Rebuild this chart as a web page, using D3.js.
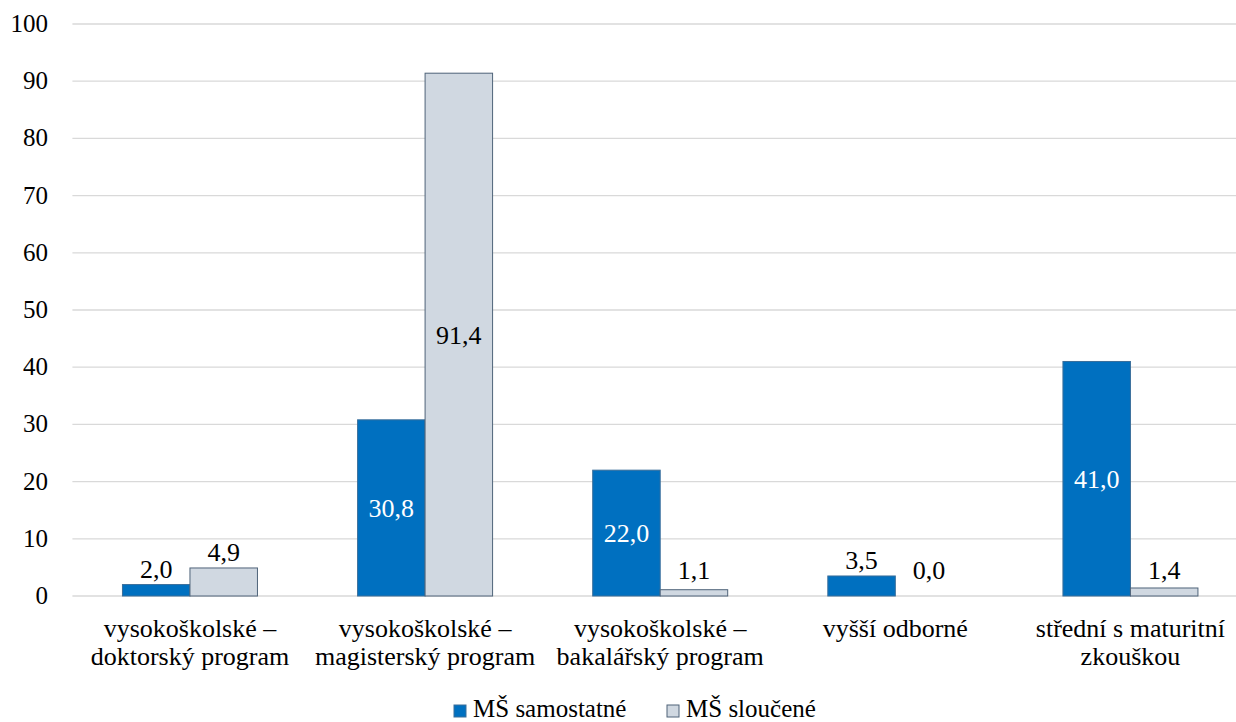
<!DOCTYPE html>
<html><head><meta charset="utf-8">
<script src="https://cdn.jsdelivr.net/npm/d3@7"></script>
<style>body{margin:0;background:#fff;font-family:"Times New Roman"}svg{display:block}</style>
</head><body><svg id="c" width="1236" height="722"></svg>
<script>
const categories = [["vysokoškolské –","doktorský program"],["vysokoškolské –","magisterský program"],["vysokoškolské –","bakalářský program"],["vyšší odborné"],["střední s maturitní","zkouškou"]];
const seriesNames = ["MŠ samostatné","MŠ sloučené"];
const samostatne = [2.0, 30.8, 22.0, 3.5, 41.0];
const sloucene = [4.9, 91.4, 1.1, 0.0, 1.4];
const yTicks = [0,10,20,30,40,50,60,70,80,90,100];
const colors = ["#0070C0","#D0D8E1"];
const strokes = ["#3A6E9A","#4F6379"];

(function(){
const FF = '"Times New Roman"';
const svg = d3.select("#c");
const pL = 72.4, pR = 1248, pT = 24, pB = 596;
const x0 = d3.scaleBand().domain(d3.range(categories.length)).range([pL,pR]).paddingInner(0).paddingOuter(0);
const x1 = d3.scaleBand().domain([0,1]).range([0,135]);
const y = d3.scaleLinear().domain([0,100]).range([pB,pT]);

svg.append("g").selectAll("line").data(yTicks).join("line")
  .attr("x1",pL).attr("x2",1236).attr("y1",d=>y(d)).attr("y2",d=>y(d))
  .attr("stroke","#D9D9D9").attr("stroke-width",1.3);

const gt = svg.append("g");
gt.selectAll("text").data(yTicks).join("text")
  .attr("x",48).attr("y",d=>y(d)).attr("dy","0.32em").attr("text-anchor","end")
  .attr("font-size",25).style("font-family",FF).attr("fill","#000").text(d=>d);

const series = [samostatne, sloucene];
const groups = svg.append("g");
series.forEach((vals,si)=>{
  vals.forEach((v,ci)=>{
    const cx = x0(ci)+x0.bandwidth()/2 - 67.5;
    const bx = cx + x1(si);
    const bw = x1.bandwidth();
    if (v>0) groups.append("rect").attr("x",bx).attr("y",y(v)).attr("width",bw).attr("height",y(0)-y(v))
      .attr("fill",colors[si]).attr("stroke",strokes[si]).attr("stroke-width",1);
    const inside = v>10;
    const label = v.toFixed(1).replace(".",",");
    groups.append("text").attr("x",bx+bw/2)
      .attr("y", inside ? (y(v)+y(0))/2 : Math.min(y(v)-7, 578.5))
      .attr("dy", inside ? "0.35em" : 0)
      .attr("text-anchor","middle").attr("font-size",26).style("font-family",FF)
      .attr("fill", inside && si===0 ? "#fff" : "#000")
      .text(label);
  });
});

categories.forEach((lines,ci)=>{
  lines.forEach((l,li)=>{
    svg.append("text").attr("text-anchor","middle").attr("font-size",26).style("font-family",FF).attr("fill","#000")
      .attr("x",x0(ci)+x0.bandwidth()/2).attr("y",637+li*28).text(l);
  });
});

const lg = svg.append("g");
const legX = [454, 667];
seriesNames.forEach((n,i)=>{
  lg.append("rect").attr("x",legX[i]).attr("y",705).attr("width",12).attr("height",12)
    .attr("fill",colors[i]).attr("stroke",strokes[i]).attr("stroke-width",1);
  lg.append("text").attr("x",legX[i]+19).attr("y",717).attr("font-size",25).style("font-family",FF).attr("fill","#000").text(n);
});
})();
</script></body></html>
